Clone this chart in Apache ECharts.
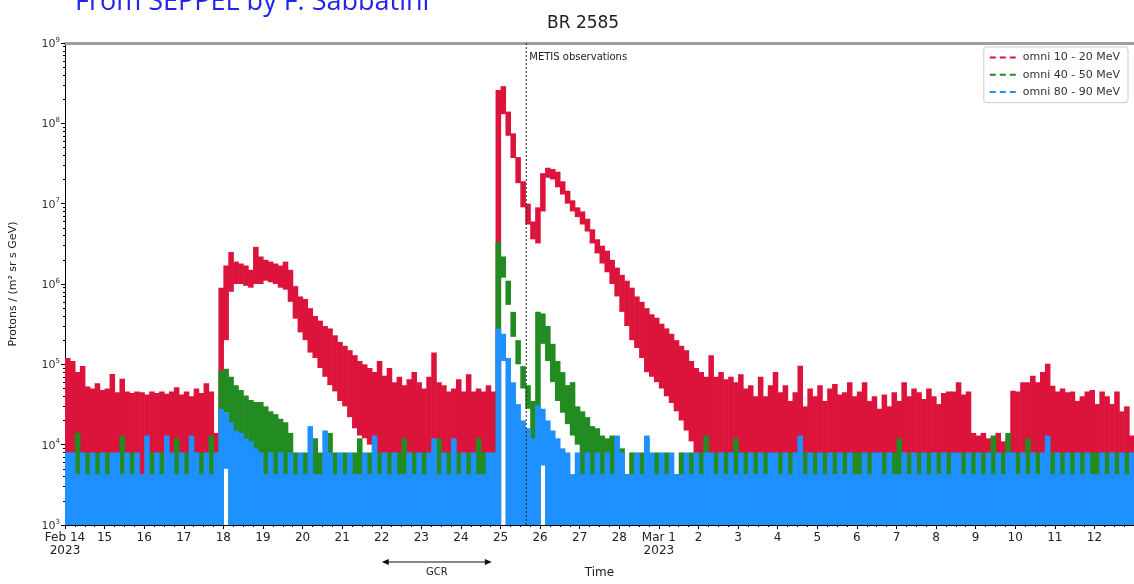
<!DOCTYPE html>
<html><head><meta charset="utf-8">
<script src="https://cdn.jsdelivr.net/npm/echarts@6/dist/echarts.min.js"></script>
<style>html,body{margin:0;padding:0;background:#fff}#c{width:1134px;height:584px}</style>
</head><body><div id="c"></div>
<script>
// ---- tick labels (one per day, starting Feb 14 2023) ----
const dayLabels = ['Feb 14\n2023','15','16','17','18','19','20','21','22','23','24','25','26','27','28',
  'Mar 1\n2023','2','3','4','5','6','7','8','9','10','11','12',''];
const binDays = 0.125;            // 3-hour bins, days since Feb 14 00:00
const METIS_DAY = 11.65;          // METIS observations start
const GCR_FROM = 8.0, GCR_TO = 10.78;
const Y_MIN = 1e3, Y_MAX = 1e9;
const seriesNames = ['omni 10 - 20 MeV','omni 40 - 50 MeV','omni 80 - 90 MeV'];

// ---- omni 10-20 MeV: upper / lower envelope per 3-h bin (0 = down to no counts) ----
const red_hi = [
 1.2e5,1.1e5,8e4,9.5e4,5.3e4,5e4,5.8e4,4.8e4,
 5e4,7.6e4,4.5e4,6.6e4,4.6e4,4.4e4,4.6e4,4.5e4,
 4.2e4,4.6e4,4.4e4,4.6e4,4.3e4,4.6e4,5.2e4,4.2e4,
 4.6e4,4e4,5e4,4.4e4,5.8e4,4.6e4,1.4e4,9e5,
 1.7e6,2.5e6,1.9e6,1.8e6,1.7e6,1.5e6,2.9e6,2.2e6,
 2e6,1.9e6,1.8e6,1.7e6,1.9e6,1.5e6,9.4e5,7e5,
 6.5e5,5e5,4e5,3.5e5,3e5,2.8e5,2.3e5,1.9e5,
 1.7e5,1.5e5,1.3e5,1.1e5,1e5,9e4,8e4,1.1e5,
 7.2e4,9e4,6e4,7e4,5.5e4,6.5e4,8e4,6e4,
 5e4,7e4,1.4e5,6e4,5.5e4,4.6e4,5e4,6.5e4,
 4.6e4,7.5e4,4.6e4,5e4,4.6e4,5.5e4,4.6e4,2.6e8,
 2.9e8,1.4e8,7.5e7,3.8e7,1.9e7,1e7,6e6,9e6,
 2.4e7,2.8e7,2.7e7,2.5e7,1.9e7,1.45e7,1.1e7,9e6,
 8e6,6.5e6,4.8e6,3.6e6,3e6,2.6e6,2e6,1.6e6,
 1.3e6,1.1e6,9e5,7e5,6e5,5e5,4.2e5,3.8e5,
 3.2e5,2.8e5,2.4e5,2e5,1.7e5,1.5e5,1.1e5,9e4,
 8e4,7e4,1.3e5,7e4,8e4,6.5e4,7e4,6e4,
 7.5e4,5e4,5.5e4,4e4,7e4,4e4,5.5e4,8e4,
 4.5e4,5.5e4,3.5e4,4.5e4,9.6e4,3e4,5e4,4e4,
 5.5e4,3.5e4,5e4,5.7e4,4.2e4,4.5e4,6e4,4e4,
 4.6e4,6e4,3.5e4,4e4,2.8e4,4.2e4,3e4,4.5e4,
 3.5e4,6e4,4e4,5e4,4.5e4,3.7e4,5e4,4e4,
 3.2e4,4.4e4,4.6e4,4.6e4,6e4,4.2e4,4.6e4,1.4e4,
 1.3e4,1.4e4,1.2e4,1.1e4,1.4e4,1.1e4,1.2e4,4.7e4,
 4.6e4,6e4,6e4,7.2e4,6e4,8e4,1.02e5,5.4e4,
 4.6e4,5e4,4.5e4,4.6e4,3.5e4,4e4,4.6e4,4.8e4,
 3.2e4,4.6e4,4e4,3.2e4,4.6e4,2.6e4,3e4,1.3e4
];
const red_lo = [
 0,0,0,0,0,0,0,0, 0,0,0,0,0,0,0,0, 0,0,0,0,0,0,0,0, 0,0,0,0,0,0,0,0,
 2e5,8e5,1e6,1e6,9.5e5,9e5,1e6,1e6,
 1.1e6,1.05e6,1e6,9e5,8.5e5,6e5,3.7e5,2.5e5,
 2e5,1.4e5,1.2e5,9e4,7e4,5.5e4,4.6e4,3.5e4,
 3e4,2.2e4,1.6e4,1.3e4,1.2e4,1e4,0,0,
 0,0,0,0,0,0,0,0, 0,0,0,0,0,0,0,0, 0,0,0,0,0,0,0,0,
 1.3e8,7e7,3.7e7,1.8e7,9e6,5.5e6,3.6e6,3.2e6,
 8e6,2.1e7,2e7,1.6e7,1.3e7,1e7,8e6,6.8e6,
 5.5e6,4.5e6,3.2e6,2.4e6,1.8e6,1.4e6,1e6,7e5,
 4.5e5,3e5,2e5,1.6e5,1.2e5,8e4,7e4,6e4,
 5e4,4e4,3.3e4,2.6e4,2e4,1.5e4,1.1e4,0,
 0,0,0,0,0,0,0,0, 0,0,0,0,0,0,0,0, 0,0,0,0,0,0,0,0, 0,0,0,0,0,0,0,0,
 0,0,0,0,0,0,0,0, 0,0,0,0,0,0,0,0, 0,0,0,0,0,0,0,0, 0,0,0,0,0,0,0,0,
 0,0,0,0,0,0,0,0, 0,0,0,0,0,0,0,0, 0,0,0,0,0,0,0,0
];

// ---- omni 40-50 MeV ----
const green_hi = [
 4.3e3,4.3e3,1.4e4,4.3e3,8e3,4.3e3,8e3,4.3e3,
 8e3,4.3e3,4.3e3,1.3e4,4.3e3,8e3,4.3e3,4.3e3,
 4.3e3,8e3,4.3e3,8e3,4.3e3,4.3e3,1.2e4,4.3e3,
 8e3,4.3e3,4.3e3,8e3,4.3e3,1.3e4,4.3e3,8.3e4,
 8.8e4,7e4,5.5e4,4.8e4,4.1e4,3.6e4,3.4e4,3.4e4,
 3e4,2.6e4,2.4e4,2.1e4,1.9e4,1.4e4,8e3,4.3e3,
 8e3,4.3e3,1.2e4,8e3,4.3e3,1.4e4,8e3,4.3e3,
 8e3,4.3e3,8e3,1.2e4,4.3e3,8e3,4.3e3,8e3,
 4.3e3,8e3,4.3e3,8e3,1.2e4,4.3e3,8e3,4.3e3,
 8e3,4.3e3,4.3e3,1.2e4,4.3e3,8e3,4.3e3,8e3,
 4.3e3,8e3,4.3e3,1.2e4,8e3,4.3e3,4.3e3,3.3e6,
 2.2e6,1.1e6,4.5e5,2e5,9.5e4,5.5e4,3.5e4,4.5e5,
 4.3e5,3e5,1.8e5,1.1e5,8e4,5.5e4,6e4,3e4,
 2.6e4,2.2e4,1.7e4,1.6e4,1.3e4,1.2e4,1.3e4,1e4,
 9e3,4.3e3,8e3,4.3e3,8e3,1.2e4,4.3e3,8e3,
 4.3e3,8e3,4.3e3,4.3e3,8e3,4.3e3,8e3,4.3e3,
 8e3,1.3e4,4.3e3,8e3,4.3e3,8e3,4.3e3,1.2e4,
 4.3e3,8e3,4.3e3,8e3,4.3e3,8e3,4.3e3,4.3e3,
 8e3,4.3e3,8e3,4.3e3,4.3e3,8e3,4.3e3,8e3,
 4.3e3,8e3,4.3e3,8e3,4.3e3,8e3,4.3e3,8e3,
 8e3,4.3e3,8e3,4.3e3,4.3e3,8e3,4.3e3,8e3,
 1.2e4,4.3e3,8e3,4.3e3,8e3,4.3e3,8e3,4.3e3,
 8e3,4.3e3,8e3,4.3e3,4.3e3,8e3,4.3e3,8e3,
 4.3e3,8e3,4.3e3,1.3e4,4.3e3,8e3,1.4e4,4.3e3,
 8e3,4.3e3,1.2e4,4.3e3,8e3,4.3e3,4.3e3,8e3,
 4.3e3,8e3,4.3e3,8e3,4.3e3,8e3,4.3e3,8e3,
 8e3,4.3e3,8e3,4.3e3,8e3,4.3e3,8e3,4.3e3
];
const green_lo = [
 0,0,0,0,0,0,0,0, 0,0,0,0,0,0,0,0, 0,0,0,0,0,0,0,0, 0,0,0,0,0,0,0,0,
 2.5e4,0,0,0,0,0,0,0,
 0,0,0,0,0,0,0,0, 0,0,0,0,0,0,0,0, 0,0,0,0,0,0,0,0,
 0,0,0,0,0,0,0,0, 0,0,0,0,0,0,0,0, 0,0,0,0,0,0,0,0,
 1.2e6,5.5e5,2.2e5,1e5,5e4,2.8e4,0,0,
 1.8e5,1.1e5,6e4,3.5e4,2.5e4,1.8e4,1.3e4,1e4,
 0,0,0,0,0,0,0,0, 0,0,0,0,0,0,0,0, 0,0,0,0,0,0,0,0, 0,0,0,0,0,0,0,0,
 0,0,0,0,0,0,0,0, 0,0,0,0,0,0,0,0, 0,0,0,0,0,0,0,0, 0,0,0,0,0,0,0,0,
 0,0,0,0,0,0,0,0, 0,0,0,0,0,0,0,0, 0,0,0,0,0,0,0,0, 0,0,0,0,0,0,0,0,
 0,0,0,0,0,0,0,0, 0,0,0,0,0,0,0,0
];

// ---- omni 80-90 MeV ----
const blue_hi = [
 8e3,8e3,4.3e3,8e3,4.3e3,8e3,4.3e3,8e3,
 4.3e3,8e3,8e3,4.3e3,8e3,4.3e3,8e3,4.3e3,
 1.3e4,4.3e3,8e3,4.3e3,1.3e4,8e3,4.3e3,8e3,
 4.3e3,1.3e4,8e3,4.3e3,8e3,4.3e3,8e3,2.8e4,
 2.5e4,1.9e4,1.5e4,1.4e4,1.2e4,1.1e4,9e3,8e3,
 4.3e3,8e3,4.3e3,8e3,4.3e3,8e3,4.3e3,8e3,
 4.3e3,1.7e4,4.3e3,4.3e3,1.5e4,8e3,4.3e3,8e3,
 4.3e3,8e3,4.3e3,4.3e3,8e3,4.3e3,1.3e4,4.3e3,
 8e3,4.3e3,8e3,4.3e3,4.3e3,8e3,4.3e3,8e3,
 4.3e3,8e3,1.2e4,4.3e3,8e3,4.3e3,1.2e4,4.3e3,
 8e3,4.3e3,8e3,4.3e3,4.3e3,8e3,8e3,2.8e5,
 2.4e5,1.2e5,6e4,3.2e4,2e4,1.6e4,1.2e4,3.1e4,
 2.8e4,2e4,1.5e4,1.2e4,9e3,8e3,4.3e3,8e3,
 4.3e3,8e3,4.3e3,8e3,4.3e3,8e3,4.3e3,1.3e4,
 8e3,4.3e3,4.3e3,8e3,4.3e3,1.3e4,8e3,4.3e3,
 8e3,4.3e3,8e3,4.3e3,4.3e3,8e3,4.3e3,8e3,
 4.3e3,8e3,8e3,4.3e3,8e3,4.3e3,8e3,4.3e3,
 8e3,4.3e3,8e3,4.3e3,8e3,4.3e3,8e3,8e3,
 4.3e3,8e3,4.3e3,8e3,1.3e4,4.3e3,8e3,4.3e3,
 8e3,4.3e3,8e3,4.3e3,8e3,4.3e3,8e3,4.3e3,
 4.3e3,8e3,4.3e3,8e3,8e3,4.3e3,8e3,4.3e3,
 4.3e3,8e3,4.3e3,8e3,4.3e3,8e3,4.3e3,8e3,
 4.3e3,8e3,4.3e3,8e3,8e3,4.3e3,8e3,4.3e3,
 8e3,4.3e3,8e3,4.3e3,8e3,4.3e3,8e3,8e3,
 4.3e3,8e3,4.3e3,8e3,4.3e3,8e3,1.3e4,4.3e3,
 8e3,4.3e3,8e3,4.3e3,8e3,4.3e3,8e3,4.3e3,
 4.3e3,8e3,4.3e3,8e3,4.3e3,8e3,4.3e3,8e3
];
const blue_lo = [
 0,0,0,0,0,0,0,0, 0,0,0,0,0,0,0,0, 0,0,0,0,0,0,0,0, 0,0,0,0,0,0,0,0,
 5e3,0,0,0,0,0,0,0,
 0,0,0,0,0,0,0,0, 0,0,0,0,0,0,0,0, 0,0,0,0,0,0,0,0,
 0,0,0,0,0,0,0,0, 0,0,0,0,0,0,0,0, 0,0,0,0,0,0,0,0,
 1.1e5,0,0,0,0,0,0,0,
 5.5e3,0,0,0,0,0,0,0,
 0,0,0,0,0,0,0,0, 0,0,0,0,0,0,0,0, 0,0,0,0,0,0,0,0, 0,0,0,0,0,0,0,0,
 0,0,0,0,0,0,0,0, 0,0,0,0,0,0,0,0, 0,0,0,0,0,0,0,0, 0,0,0,0,0,0,0,0,
 0,0,0,0,0,0,0,0, 0,0,0,0,0,0,0,0, 0,0,0,0,0,0,0,0, 0,0,0,0,0,0,0,0,
 0,0,0,0,0,0,0,0, 0,0,0,0,0,0,0,0
];

const RED = '#dc143c', GREEN = '#228b22', BLUE = '#1e90ff';
const FONT = 'DejaVu Sans';

function bandData(hi, lo) {
  return hi.map((h, i) => [i * binDays, Math.max(lo[i], Y_MIN), Math.min(h, Y_MAX)]);
}
function bandRender(color) {
  return function (params, api) {
    const d = api.value(0), lo = api.value(1), hi = api.value(2);
    const p1 = api.coord([d, hi]);
    const p2 = api.coord([d + binDays, lo]);
    const cs = params.coordSys;
    const shape = echarts.graphic.clipRectByRect(
      {x: p1[0], y: p1[1], width: p2[0] - p1[0] + 0.6, height: p2[1] - p1[1]},
      {x: cs.x, y: cs.y, width: cs.width, height: cs.height});
    return shape ? {type: 'rect', shape: shape, style: {fill: color}} : null;
  };
}
function bandSeries(id, color, hi, lo) {
  return {type: 'custom', id: id, name: id, coordinateSystem: 'cartesian2d',
    data: bandData(hi, lo), encode: {x: 0, y: [1, 2]}, renderItem: bandRender(color),
    clip: true, silent: true, animation: false};
}

const chart = echarts.init(document.getElementById('c'), null, {renderer: 'canvas'});
chart.setOption({
  animation: false,
  backgroundColor: '#fff',
  title: {text: 'BR 2585', left: 542, top: 10,
    textStyle: {fontFamily: FONT, fontSize: 17, fontWeight: 'normal', color: '#222'}},
  grid: {left: 65, right: 0, top: 43, bottom: 57, containLabel: false},
  legend: {data: seriesNames, orient: 'vertical', right: 6, top: 47,
    itemWidth: 28, itemHeight: 14, itemGap: 6, padding: [5, 8, 5, 5],
    backgroundColor: '#fff', borderColor: '#ccc', borderWidth: 1, borderRadius: 3,
    itemStyle: {opacity: 0},
    selectedMode: false, textStyle: {fontFamily: FONT, fontSize: 11, color: '#333'}},
  xAxis: [{
    type: 'value', min: 0, max: 27, interval: 1,
    axisLine: {show: true, onZero: false, lineStyle: {color: '#000', width: 1}},
    axisTick: {show: true, length: 4, lineStyle: {color: '#000'}},
    minorTick: {show: true, splitNumber: 4, length: 2, lineStyle: {color: '#000'}},
    splitLine: {show: false},
    axisLabel: {formatter: v => dayLabels[Math.round(v)] || '', color: '#222', fontFamily: FONT,
      fontSize: 12, lineHeight: 13, margin: 6, showMaxLabel: false},
    name: 'Time', nameLocation: 'middle', nameGap: 42,
    nameTextStyle: {fontFamily: FONT, fontSize: 12, color: '#222'}
  }, {
    type: 'value', position: 'top', min: 0, max: 27,
    axisLine: {show: true, lineStyle: {color: '#a0a0a0', width: 3}},
    axisTick: {show: false}, axisLabel: {show: false}, splitLine: {show: false}
  }],
  yAxis: {
    type: 'log', logBase: 10, min: Y_MIN, max: Y_MAX,
    axisLine: {show: true, onZero: false, lineStyle: {color: '#000', width: 1}},
    axisTick: {show: true, length: 4, lineStyle: {color: '#000'}},
    minorTick: {show: true, splitNumber: 9, length: 2, lineStyle: {color: '#000'}},
    splitLine: {show: false},
    axisLabel: {
      formatter: v => '{b|10}{s|' + Math.round(Math.log10(v)) + '}',
      margin: 5,
      rich: {b: {fontFamily: FONT, fontSize: 11, color: '#333', verticalAlign: 'bottom'},
             s: {fontFamily: FONT, fontSize: 7, color: '#333', verticalAlign: 'bottom', padding: [0, 0, 6, 0]}}
    },
    name: 'Protons / (m² sr s GeV)', nameLocation: 'middle', nameGap: 46, nameRotate: 90,
    nameTextStyle: {fontFamily: FONT, fontSize: 11, color: '#222'}
  },
  series: [
    bandSeries('band 10-20', RED, red_hi, red_lo),
    bandSeries('band 40-50', GREEN, green_hi, green_lo),
    bandSeries('band 80-90', BLUE, blue_hi, blue_lo),
    {type: 'line', name: 'METIS observations', data: [[METIS_DAY, Y_MIN], [METIS_DAY, Y_MAX]],
      symbol: 'none', silent: true, z: 5,
      lineStyle: {color: '#222', width: 1, type: [2, 2]}},
    {type: 'line', name: seriesNames[0], data: [], symbol: 'none', showSymbol: false, color: RED, lineStyle: {type: [6, 4], width: 1.5}},
    {type: 'line', name: seriesNames[1], data: [], symbol: 'none', showSymbol: false, color: GREEN, lineStyle: {type: [6, 4], width: 1.5}},
    {type: 'line', name: seriesNames[2], data: [], symbol: 'none', showSymbol: false, color: BLUE, lineStyle: {type: [6, 4], width: 1.5}}
  ]
});

// annotations placed through the axis scale
const mx = chart.convertToPixel({xAxisIndex: 0}, METIS_DAY);
const g1 = chart.convertToPixel({xAxisIndex: 0}, GCR_FROM);
const g2 = chart.convertToPixel({xAxisIndex: 0}, GCR_TO);
const ay = 562;
chart.setOption({
  graphic: [
    {type: 'text', left: 75, top: -11, style: {text: 'From SEPPEL by F. Sabbatini', fill: '#2323ee',
      font: '27px "Open Sans"'}},
    {type: 'text', x: mx + 3, y: 52, style: {text: 'METIS observations', fill: '#222', font: '10px "DejaVu Sans"'}},
    {type: 'line', shape: {x1: g1 + 5, y1: ay, x2: g2 - 5, y2: ay}, style: {stroke: '#111', lineWidth: 1.2}},
    {type: 'polygon', shape: {points: [[g1, ay], [g1 + 7, ay - 3], [g1 + 7, ay + 3]]}, style: {fill: '#111'}},
    {type: 'polygon', shape: {points: [[g2, ay], [g2 - 7, ay - 3], [g2 - 7, ay + 3]]}, style: {fill: '#111'}},
    {type: 'text', x: (g1 + g2) / 2, y: ay + 5, style: {text: 'GCR', fill: '#222', font: '10px "DejaVu Sans"', align: 'center'}}
  ]
});
</script></body></html>
